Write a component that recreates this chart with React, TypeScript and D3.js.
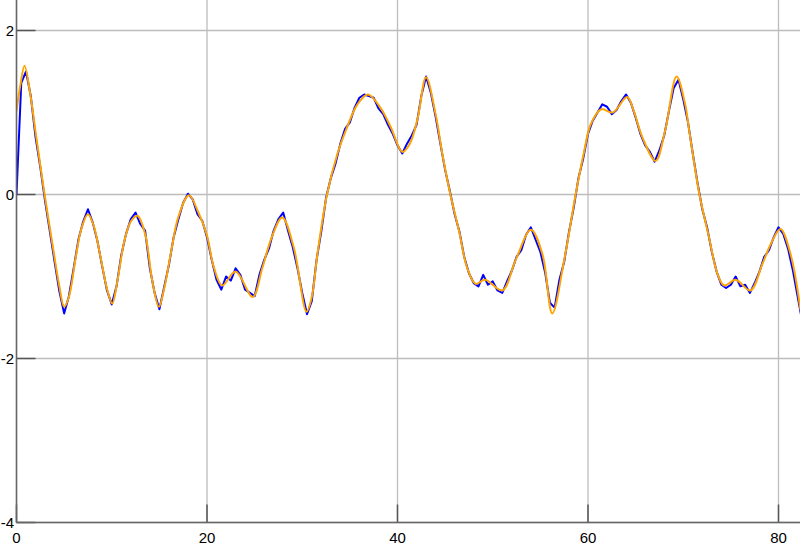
import * as d3 from "d3";

// smooth (orange) curve: key points
const smoothX = [
  0, 0.4, 0.84, 1.45, 2.1, 2.95, 3.9, 4.5, 5.0, 5.5, 6.2, 6.8, 7.5, 8.1, 8.8, 9.5, 10.05, 10.6,
  11.3, 12.0, 12.7, 13.5, 14.25, 14.95, 15.5, 16.2, 17.0, 18.1, 19.1, 20.0, 20.7, 21.6, 23.0,
  24.8, 25.8, 26.8, 27.9, 29.1, 30.45, 31.0, 31.6, 32.6, 33.7, 34.7, 35.8, 36.9, 38.2, 39.3,
  40.5, 41.3, 42.1, 43.0, 44.0, 44.7, 45.55, 46.45, 47.3, 48.2, 49.2, 51.0, 52.4, 54.0, 55.2,
  56.25, 57.5, 58.7, 59.55, 60.3, 61.4, 62.6, 64.1, 64.8, 65.7, 67.1, 68.1, 69.3, 70.2, 70.6,
  71.7, 72.7, 73.6, 74.3, 75.5, 77.05, 78.3, 79.2, 80.2, 81.25, 82.3,
];
const smoothY = [
  1.02, 1.33, 1.57, 1.22, 0.68, 0.0, -0.7, -1.12, -1.37, -1.25, -0.78, -0.42, -0.24, -0.38,
  -0.75, -1.15, -1.33, -1.05, -0.58, -0.33, -0.26, -0.48, -1.05, -1.37, -1.15, -0.72, -0.27,
  -0.01, -0.22, -0.5, -0.88, -1.11, -0.94, -1.25, -0.9, -0.52, -0.28, -0.64, -1.43, -1.25,
  -0.72, 0.0, 0.5, 0.82, 1.1, 1.22, 1.06, 0.82, 0.52, 0.62, 0.92, 1.43, 0.98, 0.5, 0.0, -0.44,
  -0.89, -1.09, -1.04, -1.17, -0.8, -0.43, -0.72, -1.45, -0.8, 0.0, 0.5, 0.86, 1.04, 1.0, 1.19,
  1.02, 0.7, 0.41, 0.78, 1.44, 1.1, 0.8, 0.0, -0.52, -0.97, -1.11, -1.04, -1.17, -0.85, -0.6,
  -0.42, -0.72, -1.4,
];

// noisy (blue) signal, one reading every 0.5
const noisyStep = 0.5;
const noisyY = [
  0.0, 1.36, 1.5, 1.2, 0.7, 0.33, -0.08, -0.45, -0.82, -1.18, -1.45, -1.24, -0.9, -0.55, -0.33,
  -0.18, -0.34, -0.57, -0.88, -1.17, -1.34, -1.12, -0.74, -0.48, -0.3, -0.22, -0.36, -0.44,
  -0.9, -1.2, -1.4, -1.13, -0.86, -0.52, -0.3, -0.1, 0.01, -0.06, -0.24, -0.32, -0.52, -0.8,
  -1.04, -1.16, -1.0, -1.05, -0.9, -0.98, -1.16, -1.2, -1.24, -0.98, -0.8, -0.66, -0.44, -0.3,
  -0.22, -0.44, -0.64, -0.9, -1.2, -1.46, -1.3, -0.8, -0.45, -0.04, 0.2, 0.38, 0.62, 0.8, 0.88,
  1.06, 1.18, 1.22, 1.2, 1.18, 1.05, 0.98, 0.85, 0.74, 0.6, 0.5, 0.62, 0.72, 0.85, 1.2, 1.44,
  1.24, 0.95, 0.62, 0.3, 0.04, -0.24, -0.45, -0.76, -0.96, -1.08, -1.12, -0.98, -1.1, -1.06,
  -1.17, -1.2, -1.06, -0.93, -0.76, -0.68, -0.49, -0.4, -0.55, -0.7, -0.95, -1.32, -1.38,
  -1.04, -0.82, -0.46, -0.16, 0.2, 0.44, 0.74, 0.9, 1.0, 1.1, 1.07, 0.98, 1.03, 1.14, 1.22,
  1.12, 0.94, 0.74, 0.6, 0.52, 0.4, 0.54, 0.72, 1.02, 1.3, 1.4, 1.16, 0.88, 0.5, 0.14, -0.18,
  -0.4, -0.7, -0.94, -1.1, -1.14, -1.1, -1.0, -1.12, -1.1, -1.2, -1.08, -0.94, -0.76, -0.68,
  -0.52, -0.4, -0.48, -0.66, -0.92, -1.24, -1.55,
];

const xTicks = [0, 20, 40, 60, 80];
const yTicks = [-4, -2, 0, 2];

const W = 800;
const H = 552;

export default function App() {
  const x = d3.scaleLinear().domain([0, 80]).range([16.5, 778.5]);
  const y = d3.scaleLinear().domain([-4, 2]).range([522.5, 30.5]);
  const left = x(0);
  const bottom = y(-4);

  const smooth = smoothX.map((v, i) => [v, smoothY[i]] as [number, number]);
  const noisy = noisyY.map((v, i) => [i * noisyStep, v] as [number, number]);

  const smoothLine = d3
    .line<[number, number]>()
    .x((d) => x(d[0]))
    .y((d) => y(d[1]))
    .curve(d3.curveCatmullRom.alpha(0.5));
  const noisyLine = d3
    .line<[number, number]>()
    .x((d) => x(d[0]))
    .y((d) => y(d[1]));

  return (
    <svg
      width={W}
      height={H}
      style={{ position: "absolute", left: 0, top: 0, background: "#fff" }}
      fontFamily="'Liberation Sans', Arial, sans-serif"
    >
      <defs>
        <clipPath id="plot">
          <rect x={left} y={0} width={W - left} height={bottom} />
        </clipPath>
      </defs>

      {/* grid */}
      {xTicks.map((t) => (
        <line key={"gx" + t} x1={x(t)} x2={x(t)} y1={0} y2={bottom} stroke="#bdbdbd" strokeWidth={1.3} />
      ))}
      {yTicks.map((t) => (
        <line key={"gy" + t} x1={left} x2={W} y1={y(t)} y2={y(t)} stroke="#bdbdbd" strokeWidth={1.3} />
      ))}

      {/* tick marks */}
      {xTicks.map((t) => (
        <line key={"tx" + t} x1={x(t)} x2={x(t)} y1={bottom - 18} y2={bottom} stroke="#555" strokeWidth={1.5} />
      ))}
      {yTicks.map((t) => (
        <line key={"ty" + t} x1={left} x2={left + 19} y1={y(t)} y2={y(t)} stroke="#555" strokeWidth={1.5} />
      ))}

      <g clipPath="url(#plot)" fill="none" strokeLinejoin="round" strokeLinecap="round">
        <path d={noisyLine(noisy) ?? ""} stroke="#0000ff" strokeWidth={2} />
        <path d={smoothLine(smooth) ?? ""} stroke="#ffa500" strokeWidth={2} />
      </g>

      {/* axis lines */}
      <line x1={left} x2={left} y1={0} y2={bottom} stroke="#666" strokeWidth={1.5} />
      <line x1={left} x2={W} y1={bottom} y2={bottom} stroke="#666" strokeWidth={1.5} />

      {/* labels */}
      {yTicks.map((t) => (
        <text key={"ly" + t} x={14} y={y(t)} dy="0.35em" textAnchor="end" fontSize={15} fill="#000">
          {t}
        </text>
      ))}
      {xTicks.map((t) => (
        <text key={"lx" + t} x={x(t)} y={543} textAnchor="middle" fontSize={15} fill="#000">
          {t}
        </text>
      ))}
    </svg>
  );
}
